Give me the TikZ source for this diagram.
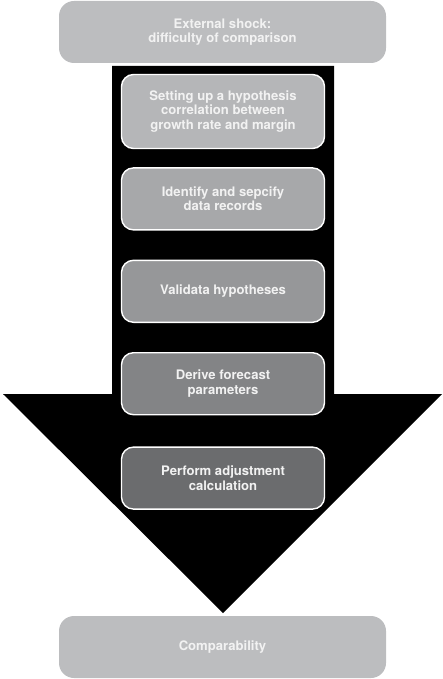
\documentclass[tikz,border=0pt]{standalone}
\usepackage{fontspec}
\setmainfont{TeX Gyre Heros}
\usetikzlibrary{positioning}

\definecolor{endgray}{HTML}{BCBDBF}
\definecolor{stepA}{HTML}{B5B6B8}
\definecolor{stepB}{HTML}{A7A8AA}
\definecolor{stepC}{HTML}{969799}
\definecolor{stepD}{HTML}{838486}
\definecolor{stepE}{HTML}{6B6C6E}
\definecolor{labelgray}{HTML}{F2F2F2}

\begin{document}
\begin{tikzpicture}[
    x = 1pt, y = -1pt, % one unit per pixel, downwards
    node distance = 29pt, % gap between steps
    font = \bfseries\fontsize{13.1}{14.4}\selectfont
    ]

    \tikzset{
    endbox/.style = {
        rectangle,
        rounded corners = 15pt,
        fill = endgray,
        text = labelgray,
        minimum width = 327pt,
        minimum height = 62pt,
        align = center
    },
    stepbox/.style = {
        rectangle,
        rounded corners = 12pt,
        draw = white,
        line width = 1.4pt,
        text = labelgray,
        minimum width = 203pt,
        minimum height = 62pt,
        align = center
    }
    }
    \useasboundingbox (0,0) rectangle (442,679);

    % big downward arrow
    \fill[black] (112,66) -- (334,66) -- (334,394) -- (442,394) -- (223,613)
        -- (3,394) -- (112,394) -- cycle;

    \node[endbox] (shock) at (222.5,32) {External shock:\\difficulty of comparison};
    \node[stepbox,fill=stepA,minimum height=74pt] (hypo) at (223,111.5)
        {Setting up a hypothesis\\correlation between\\growth rate and margin};
    \node[stepbox,fill=stepB] (data) [below=18pt of hypo] {Identify and sepcify\\data records};
    \node[stepbox,fill=stepC] (valid) [below=of data] {Validata hypotheses};
    \node[stepbox,fill=stepD] (forecast) [below=of valid] {Derive forecast\\parameters};
    \node[stepbox,fill=stepE] (adjust) [below=31pt of forecast] {Perform adjustment\\calculation};
    \node[endbox] (result) at (222.5,647) {Comparability};
\end{tikzpicture}
\end{document}
